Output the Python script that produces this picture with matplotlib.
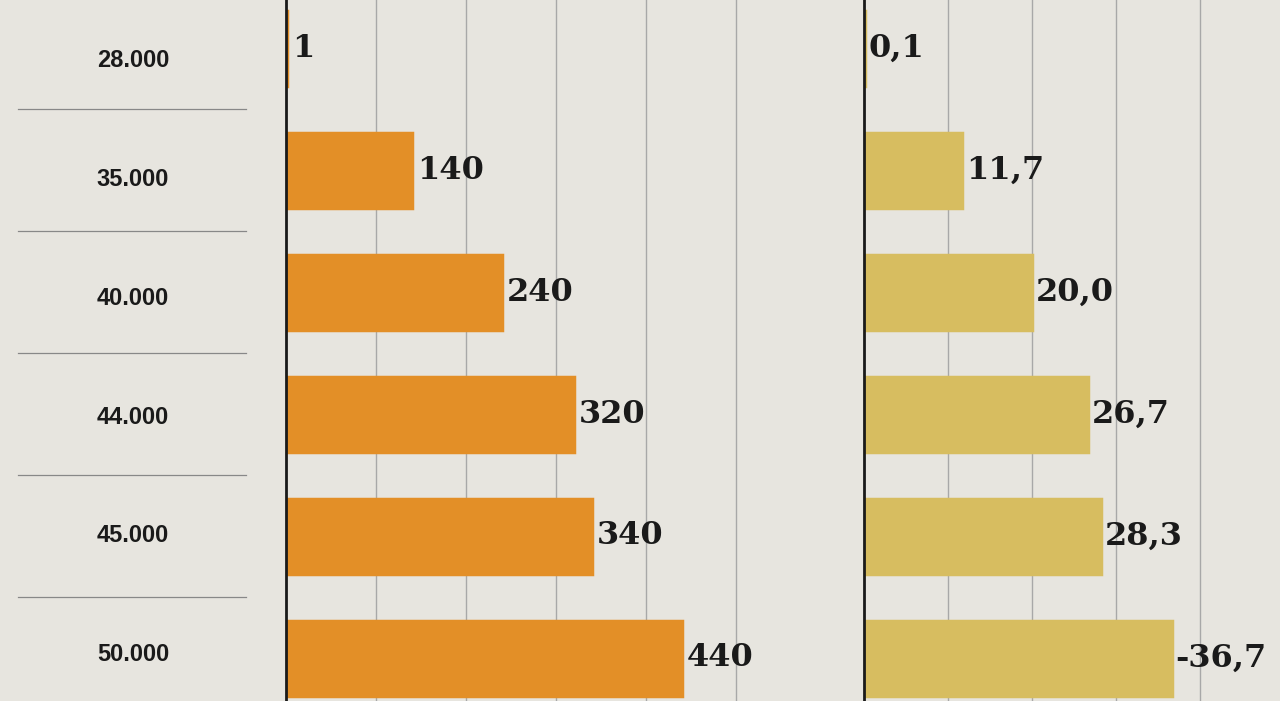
import matplotlib.pyplot as plt

BG = "#e7e5df"
ORANGE = "#e38f27"
TAN = "#d7bd60"

incomes = ["28.000", "35.000", "40.000", "44.000", "45.000", "50.000"]
left_vals = [1, 140, 240, 320, 340, 440]
left_labels = ["1", "140", "240", "320", "340", "440"]
right_vals = [0.1, 11.7, 20.0, 26.7, 28.3, 36.7]
right_labels = ["0,1", "11,7", "20,0", "26,7", "28,3", "-36,7"]

W, H = 1280, 701
fig = plt.figure(figsize=(W / 100, H / 100), dpi=100, facecolor=BG)

# row geometry in pixels
ROW0, STEP = 48, 122
ylim = ((H - ROW0) / STEP, -ROW0 / STEP)
BAR_H = 75 / STEP

# label column
lab = fig.add_axes([0, 0, 1, 1], facecolor=BG)
lab.set_xlim(0, W)
lab.set_ylim(*ylim)
lab.axis("off")
for i, t in enumerate(incomes):
    lab.text(133, i * 0.975 + 0.1, t, ha="center", va="center", fontsize=17,
             fontweight="bold", family="Liberation Sans", color="#1a1a1a")
    if i < len(incomes) - 1:
        lab.plot([18, 246], [i + 0.5, i + 0.5], color="#888888", lw=0.9)


def panel(x0, x1, xmax, grid, vals, labels, color):
    ax = fig.add_axes([x0 / W, 0, (x1 - x0) / W, 1])
    ax.set_facecolor("none")
    ax.set_xlim(0, xmax)
    ax.set_ylim(*ylim)
    ax.barh(range(len(vals)), vals, height=BAR_H, color=color,
            edgecolor=color, lw=2.5, zorder=2)
    for g in grid:
        ax.axvline(g, color="#a8a8a8", lw=1, zorder=1)
    for i, (v, s) in enumerate(zip(vals, labels)):
        ax.text(v + xmax * 0.009, i, s, ha="left", va="center", fontsize=23,
                fontweight="bold", family="DejaVu Serif", color="#1a1a1a", zorder=3)
    for sp in ["top", "right", "bottom"]:
        ax.spines[sp].set_visible(False)
    ax.spines["left"].set_linewidth(2)
    ax.spines["left"].set_color("#1a1a1a")
    ax.spines["left"].set_zorder(4)
    ax.set_xticks([])
    ax.set_yticks([])
    return ax


panel(286, 830, (830 - 286) / 0.9, [100, 200, 300, 400, 500],
      left_vals, left_labels, ORANGE)
panel(864, W, (W - 864) / 8.39, [10, 20, 30, 40],
      right_vals, right_labels, TAN)

fig.savefig("out.png", dpi=100, facecolor=BG)
